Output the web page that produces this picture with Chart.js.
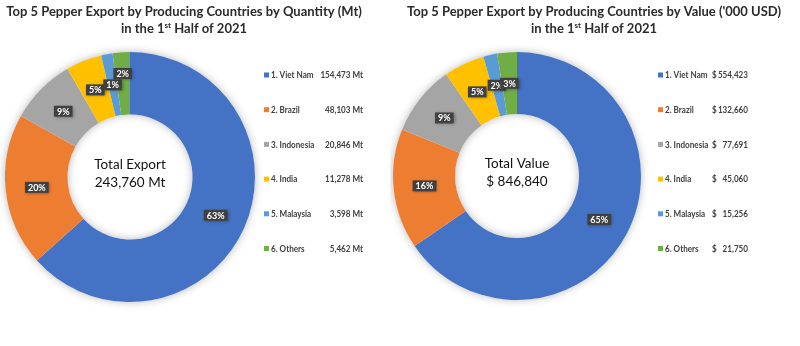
<!DOCTYPE html>
<html>
<head>
<meta charset="utf-8">
<script src="https://cdn.jsdelivr.net/npm/chart.js@4.4.1/dist/chart.umd.min.js"></script>
<style>
  body { margin: 0; background: #fff; }
  #wrap { position: relative; width: 800px; height: 346px; }
  canvas { position: absolute; top: 0; }
</style>
</head>
<body>
<div id="wrap">
  <canvas id="qtyChart" width="390" height="346" style="left:0"></canvas>
  <canvas id="valChart" width="410" height="346" style="left:390px"></canvas>
</div>
<script>
// data
var countries = ['1. Viet Nam', '2. Brazil', '3. Indonesia', '4. India', '5. Malaysia', '6. Others'];
var quantityMt = [154473, 48103, 20846, 11278, 3598, 5462];
var valueUsd = [554423, 132660, 77691, 45060, 15256, 21750];
var sliceColors = ['#4472C4', '#ED7D31', '#A5A5A5', '#FFC000', '#5B9BD5', '#70AD47'];

var FONT = 'Lato, "Open Sans", sans-serif';

function fmt(n) { return n.toLocaleString('en-US'); }
function sum(arr) { return arr.reduce(function (a, b) { return a + b; }, 0); }

// text squeezed a bit horizontally (the original uses a narrow font)
function narrowText(ctx, txt, x, y, align, sx) {
  ctx.save();
  ctx.translate(x, y);
  ctx.scale(sx, 1);
  ctx.textAlign = align;
  ctx.fillText(txt, 0, 0);
  ctx.restore();
}

// soft shadow under the ring
var ringShadow = {
  id: 'ringShadow',
  beforeDatasetsDraw: function (chart) {
    var arc = chart.getDatasetMeta(0).data[0];
    if (!arc) return;
    var p = arc.getProps(['x', 'y', 'innerRadius', 'outerRadius'], true);
    var ctx = chart.ctx;
    ctx.save();
    ctx.shadowColor = 'rgba(0,0,0,0.28)';
    ctx.shadowBlur = 9;
    ctx.fillStyle = '#fff';
    ctx.beginPath();
    ctx.arc(p.x, p.y, p.outerRadius, 0, Math.PI * 2);
    ctx.arc(p.x, p.y, p.innerRadius, Math.PI * 2, 0, true);
    ctx.fill();
    ctx.restore();
  }
};

// title, centre total, percent boxes and the value legend
var decor = {
  id: 'decor',
  afterDraw: function (chart, args, o) {
    var ctx = chart.ctx;
    var data = chart.data.datasets[0].data;
    var total = sum(data);
    var meta = chart.getDatasetMeta(0);
    ctx.save();

    // title
    ctx.fillStyle = '#2b2b2b';
    ctx.textBaseline = 'middle';
    ctx.textAlign = 'center';
    ctx.font = 'bold 13px ' + FONT;
    ctx.fillText(o.title, o.titleX, 12);
    var a = 'in the 1', sup = 'st', b = ' Half of 2021';
    ctx.textAlign = 'left';
    var wa = ctx.measureText(a).width, wb = ctx.measureText(b).width;
    ctx.font = 'bold 8px ' + FONT;
    var ws = ctx.measureText(sup).width;
    var x0 = o.titleX - (wa + ws + wb) / 2;
    ctx.font = 'bold 13px ' + FONT;
    ctx.fillText(a, x0, 29);
    ctx.font = 'bold 8px ' + FONT;
    ctx.fillText(sup, x0 + wa, 25);
    ctx.font = 'bold 13px ' + FONT;
    ctx.fillText(b, x0 + wa + ws, 29);

    // centre text
    var c = meta.data[0].getProps(['x', 'y'], true);
    ctx.textAlign = 'center';
    ctx.fillStyle = '#111';
    ctx.font = '13.5px ' + FONT;
    ctx.fillText(o.centerLabel, c.x, c.y - 12);
    ctx.fillText(o.centerValue(total), c.x, c.y + 6);

    // percent boxes
    ctx.font = 'bold 9px ' + FONT;
    meta.data.forEach(function (arc, i) {
      var p = arc.getProps(['x', 'y', 'startAngle', 'endAngle', 'innerRadius', 'outerRadius'], true);
      var mid = (p.startAngle + p.endAngle) / 2;
      var r = (p.innerRadius + p.outerRadius) / 2 + (o.nudge[i] || 0);
      var lx = p.x + Math.cos(mid) * r, ly = p.y + Math.sin(mid) * r;
      var txt = Math.round(data[i] / total * 100) + '%';
      var w = ctx.measureText(txt).width + 6, h = 11;
      ctx.save();
      ctx.shadowColor = 'rgba(0,0,0,0.35)';
      ctx.shadowBlur = 3;
      ctx.shadowOffsetX = 1;
      ctx.shadowOffsetY = 1;
      ctx.fillStyle = '#404040';
      ctx.fillRect(lx - w / 2, ly - h / 2, w, h);
      ctx.restore();
      ctx.fillStyle = '#fff';
      ctx.textAlign = 'center';
      ctx.fillText(txt, lx, ly + 0.5);
    });

    // legend
    ctx.font = 'bold 10px ' + FONT;
    chart.data.labels.forEach(function (lab, i) {
      var y = o.legendTop + i * o.legendStep;
      ctx.fillStyle = sliceColors[i];
      ctx.fillRect(o.legendX, y - 2.5, 5, 5);
      ctx.fillStyle = '#404040';
      narrowText(ctx, lab, o.legendX + 7, y, 'left', 0.81);
      if (o.dollarX) {
        narrowText(ctx, '$', o.dollarX, y, 'left', 0.81);
      }
      narrowText(ctx, o.valueText(data[i]), o.valueRight, y, 'right', 0.81);
    });
    ctx.restore();
  }
};

function makeChart(id, values, pad, decorOpts) {
  return new Chart(document.getElementById(id), {
    type: 'doughnut',
    data: {
      labels: countries,
      datasets: [{
        data: values,
        backgroundColor: sliceColors,
        borderWidth: 0
      }]
    },
    options: {
      responsive: false,
      animation: false,
      cutout: '50%',
      layout: { padding: pad },
      plugins: {
        legend: { display: false },
        tooltip: { enabled: false },
        decor: decorOpts
      }
    },
    plugins: [ringShadow, decor]
  });
}

makeChart('qtyChart', quantityMt, { left: 5, right: 135, top: 52, bottom: 44 }, {
  title: 'Top 5 Pepper Export by Producing Countries by Quantity (Mt)',
  titleX: 184,
  centerLabel: 'Total Export',
  centerValue: function (t) { return fmt(t) + ' Mt'; },
  nudge: { 5: 10 },
  legendX: 264,
  legendTop: 75,
  legendStep: 34.7,
  valueRight: 363,
  valueText: function (v) { return fmt(v) + ' Mt'; }
});

makeChart('valChart', valueUsd, { left: 3, right: 159, top: 52, bottom: 46 }, {
  title: "Top 5 Pepper Export by Producing Countries by Value ('000 USD)",
  titleX: 204,
  centerLabel: 'Total Value',
  centerValue: function (t) { return '$ ' + fmt(t); },
  nudge: {},
  legendX: 268,
  legendTop: 75,
  legendStep: 34.7,
  dollarX: 322,
  valueRight: 358,
  valueText: function (v) { return fmt(v); }
});
</script>
</body>
</html>
